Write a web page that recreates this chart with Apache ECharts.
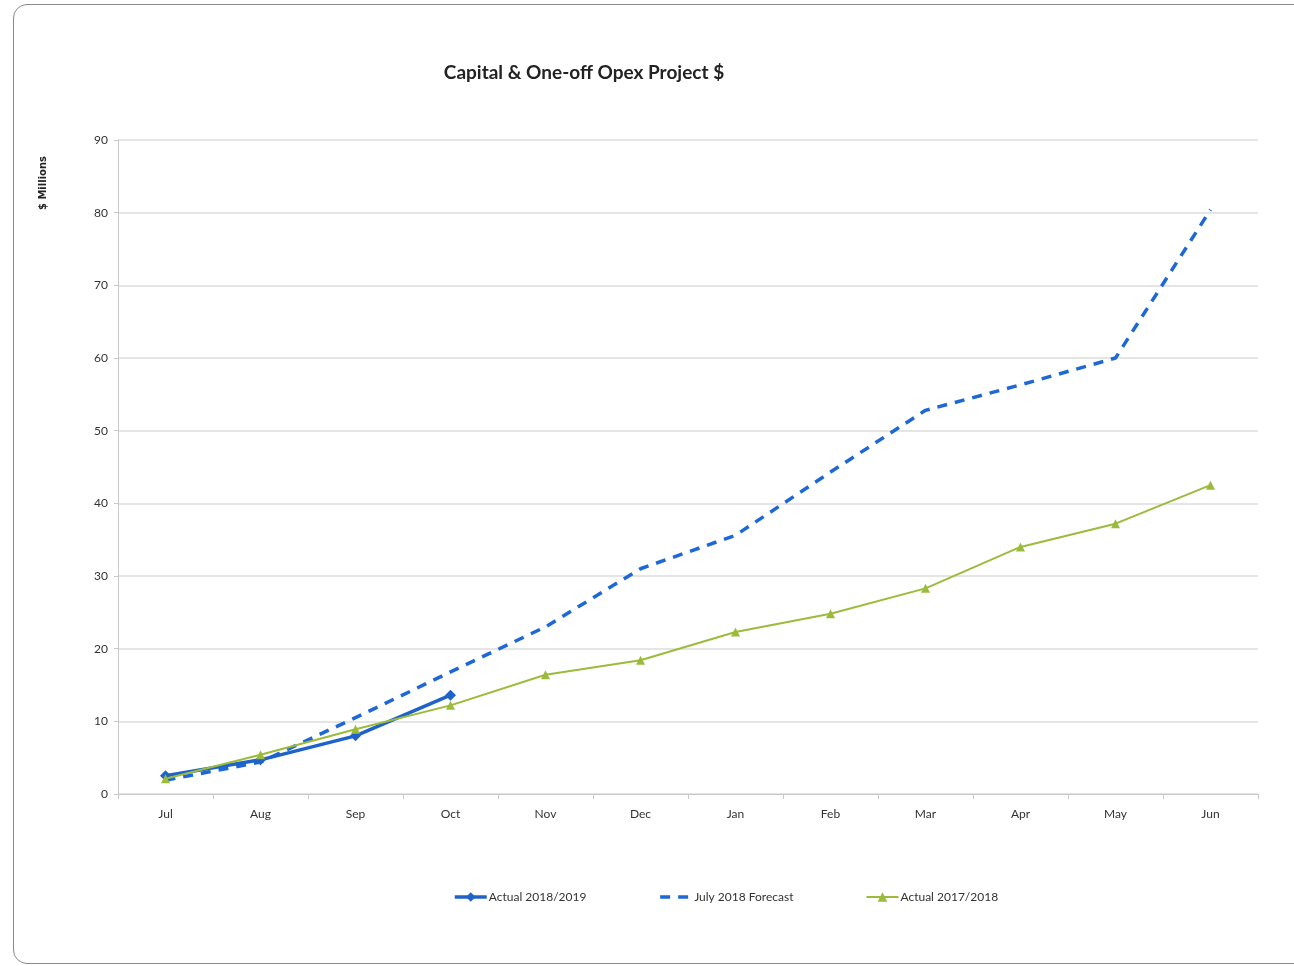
<!DOCTYPE html>
<html>
<head>
<meta charset="utf-8">
<script src="https://cdn.jsdelivr.net/npm/echarts@6/dist/echarts.min.js"></script>
<style>
  html, body { margin: 0; padding: 0; background: #fff; }
  #frame {
    position: absolute; left: 13px; top: 4px; width: 1300px; height: 960px;
    border: 1.5px solid #8a8a8a; border-radius: 14px; box-sizing: border-box;
  }
  #chart { position: absolute; left: 0; top: 0; width: 1294px; height: 966px; }
</style>
</head>
<body>
<div id="frame"></div>
<div id="chart"></div>
<script>
const months = ["Jul", "Aug", "Sep", "Oct", "Nov", "Dec", "Jan", "Feb", "Mar", "Apr", "May", "Jun"]
const actual1819 = [2.5, 4.7, 8.0, 13.6]
const forecastJuly18 = [1.9, 4.4, 10.5, 16.8, 23.0, 31.0, 35.6, 44.3, 52.8, 56.3, 60.0, 80.4]
const actual1718 = [2.1, 5.4, 8.9, 12.2, 16.4, 18.4, 22.3, 24.8, 28.3, 34.0, 37.2, 42.5]

const font = "Lato, sans-serif"
const chart = echarts.init(document.getElementById("chart"))

chart.setOption({
  animation: false,
  textStyle: { fontFamily: font },
  title: {
    text: "Capital & One-off Opex Project $",
    left: 579,
    textAlign: "center",
    top: 58,
    textStyle: { fontSize: 19, fontWeight: "bold", color: "#222", fontFamily: font }
  },
  graphic: [{
    type: "text",
    left: 38,
    top: 156,
    rotation: Math.PI / 2,
    style: { text: "$ Millions", font: "bold 10px 'DejaVu Sans', sans-serif", fill: "#222" }
  }],
  grid: { left: 118, right: 36, top: 140, bottom: 172 },
  legend: {
    top: 886,
    left: 448,
    itemGap: 72,
    itemWidth: 32,
    itemHeight: 12,
    textStyle: { fontSize: 12, color: "#333", fontFamily: font, padding: [0, 0, 0, -3] },
    data: [
      { name: "Actual 2018/2019", lineStyle: { width: 3.5 } },
      { name: "July 2018 Forecast", itemStyle: { opacity: 0 }, lineStyle: { width: 3.5 } },
      { name: "Actual 2017/2018" }
    ]
  },
  xAxis: {
    type: "category",
    data: months,
    boundaryGap: true,
    axisLine: { lineStyle: { color: "#c8c8c8" } },
    axisTick: { show: true, lineStyle: { color: "#c8c8c8" } },
    axisLabel: { color: "#333", fontSize: 12, margin: 14 }
  },
  yAxis: {
    type: "value",
    min: 0,
    max: 90,
    interval: 10,
    axisLine: { show: true, lineStyle: { color: "#c8c8c8" } },
    axisTick: { show: true, length: 4, lineStyle: { color: "#c8c8c8" } },
    axisLabel: { color: "#333", fontSize: 12, margin: 10 },
    splitLine: { lineStyle: { color: "#dcdcdc", width: 1.5 } }
  },
  series: [
    {
      name: "Actual 2018/2019",
      type: "line",
      data: actual1819,
      symbol: "diamond",
      symbolSize: 11,
      lineStyle: { color: "#1f62c9", width: 3.5 },
      itemStyle: { color: "#1f62c9" },
      z: 4
    },
    {
      name: "July 2018 Forecast",
      type: "line",
      data: forecastJuly18,
      symbol: "none",
      lineStyle: { color: "#1d68d4", width: 3.5, type: [10, 8] },
      itemStyle: { color: "#1d68d4" },
      z: 3
    },
    {
      name: "Actual 2017/2018",
      type: "line",
      data: actual1718,
      symbol: "triangle",
      symbolSize: 9,
      lineStyle: { color: "#9bbb3b", width: 2 },
      itemStyle: { color: "#9bbb3b" },
      z: 5
    }
  ]
})
</script>
</body>
</html>
